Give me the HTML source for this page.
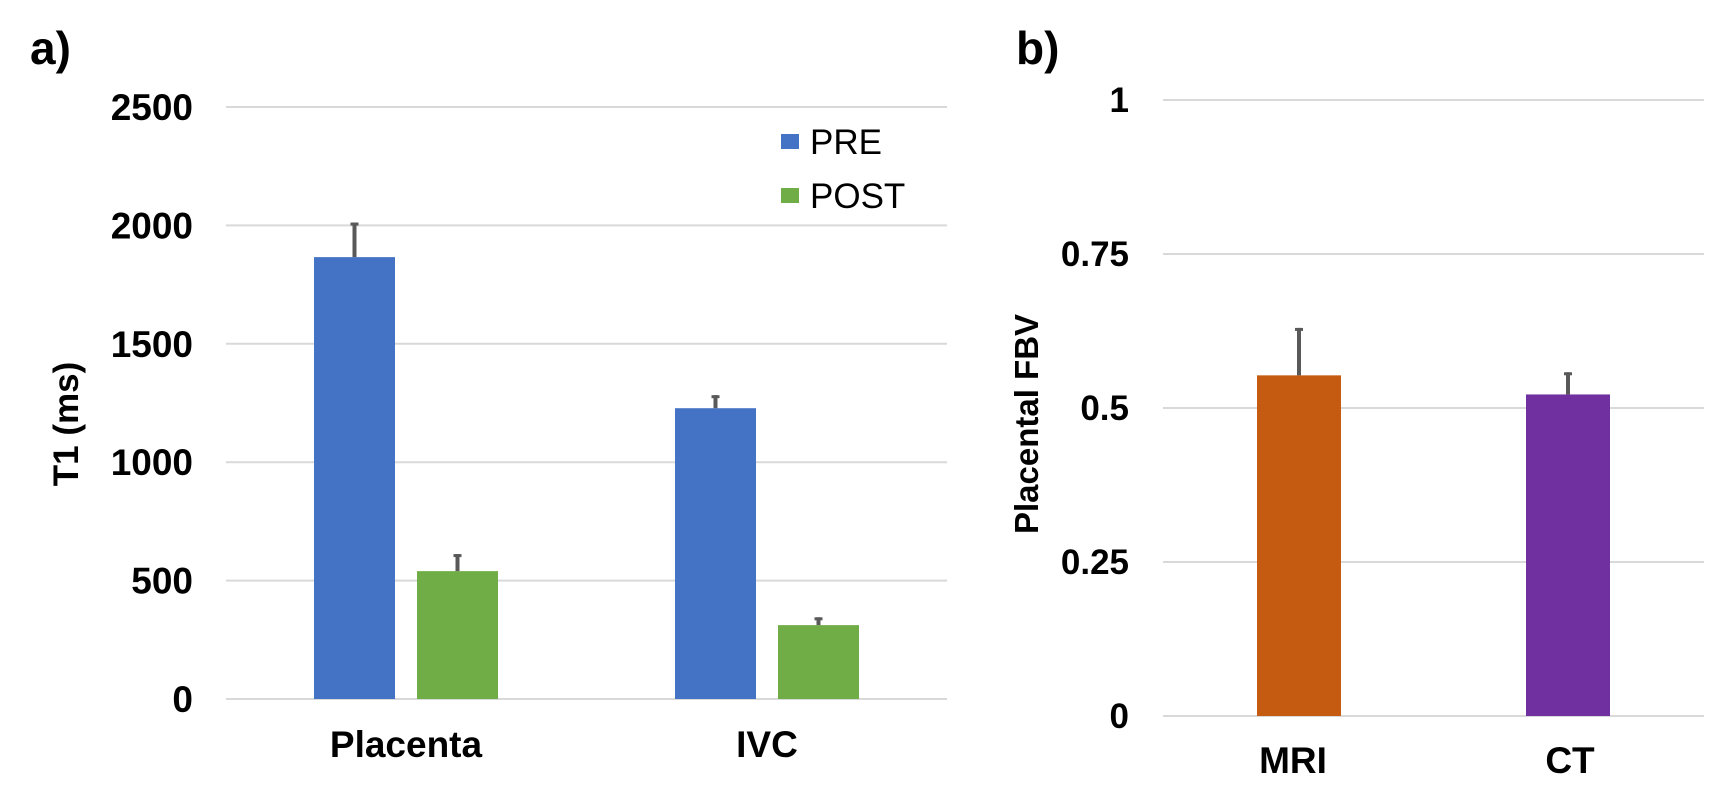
<!DOCTYPE html>
<html><head><meta charset="utf-8"><style>
body{margin:0;background:#fff;}
svg{display:block;font-family:"Liberation Sans",Arial,sans-serif;}
</style></head><body>
<svg id="c" width="1726" height="808"></svg>
<script>
const groupsA=["Placenta","IVC"];
const preVals=[1866,1228];
const preErr=[146,55];
const postVals=[540,312];
const postErr=[72,33];
const ticksA=[0,500,1000,1500,2000,2500];
const catsB=["MRI","CT"];
const valsB=[0.553,0.522];
const errB=[0.077,0.036];
const ticksB=[0,0.25,0.5,0.75,1];
const ticksBLabels=["0","0.25","0.5","0.75","1"];

const svg=document.getElementById('c');
const NS="http://www.w3.org/2000/svg";
function mk(t,a,parent){const e=document.createElementNS(NS,t);for(const k in a)e.setAttribute(k,a[k]);(parent||svg).appendChild(e);return e;}
function txt(s,a,parent){const e=mk('text',a,parent);e.textContent=s;return e;}

// Panel a
const yA=v=>699-v/2500*592;
const gA=mk('g',{});


let t=txt('a)',{x:30,y:64,'font-size':46,'font-weight':'bold'},gA);

ticksA.forEach(v=>{
  const l=mk('line',{x1:226,x2:947,y1:yA(v),y2:yA(v),stroke:'#d9d9d9','stroke-width':2},gA);
  
  const tt=txt(String(v),{x:193,y:yA(v)+13,'font-size':37,'font-weight':'bold','text-anchor':'end'},gA);
  
});
t=txt('T1 (ms)',{x:0,y:0,'font-size':35,'font-weight':'bold','text-anchor':'middle',transform:'translate(78,424) rotate(-90)'},gA);

const centersA=[406,767];
function bar(g,x,w,v,e,yf,col,name){
  const r=mk('rect',{x:x,y:yf(v),width:w,height:yf(0)-yf(v),fill:col},g);
  
  const cx=x+w/2;
  const l=mk('line',{x1:cx,x2:cx,y1:yf(v),y2:yf(v+e),stroke:'#595959','stroke-width':4},g);
  
  const c=mk('line',{x1:cx-4,x2:cx+4,y1:yf(v+e)+1.5,y2:yf(v+e)+1.5,stroke:'#595959','stroke-width':3},g);
  
}
groupsA.forEach((g,i)=>{
  const c=centersA[i];
  bar(gA,c-92,81,preVals[i],preErr[i],yA,'#4472c4','bar-pre-'+g.toLowerCase());
  bar(gA,c+11,81,postVals[i],postErr[i],yA,'#70ad47','bar-post-'+g.toLowerCase());
  const tt=txt(g,{x:c,y:757,'font-size':37,'font-weight':'bold','text-anchor':'middle'},gA);
  
});
let lg=mk('g',{},gA);

let s=mk('rect',{x:781,y:134,width:18,height:15,fill:'#4472c4'},lg);

t=txt('PRE',{x:810,y:154,'font-size':35},lg);

s=mk('rect',{x:781,y:188,width:18,height:15,fill:'#70ad47'},lg);

t=txt('POST',{x:810,y:208,'font-size':35},lg);


// Panel b
const yB=v=>716-v*616;
const gB=mk('g',{});


t=txt('b)',{x:1016,y:64,'font-size':46,'font-weight':'bold'},gB);

ticksB.forEach((v,i)=>{
  const l=mk('line',{x1:1163,x2:1704,y1:yB(v),y2:yB(v),stroke:'#d9d9d9','stroke-width':2},gB);
  
  const tt=txt(ticksBLabels[i],{x:1129,y:yB(v)+12,'font-size':35,'font-weight':'bold','text-anchor':'end'},gB);
  
});
t=txt('Placental FBV',{x:0,y:0,'font-size':33,'font-weight':'bold','text-anchor':'middle',transform:'translate(1038,424) rotate(-90)'},gB);

const centersB=[1299,1568];
const colsB=['#c55a11','#7030a0'];
const labelXB=[1293,1570];
catsB.forEach((c,i)=>{
  bar(gB,centersB[i]-42,84,valsB[i],errB[i],yB,colsB[i],'bar-'+c.toLowerCase());
  const tt=txt(c,{x:labelXB[i],y:773,'font-size':37,'font-weight':'bold','text-anchor':'middle'},gB);
  
});
</script>
</body></html>
